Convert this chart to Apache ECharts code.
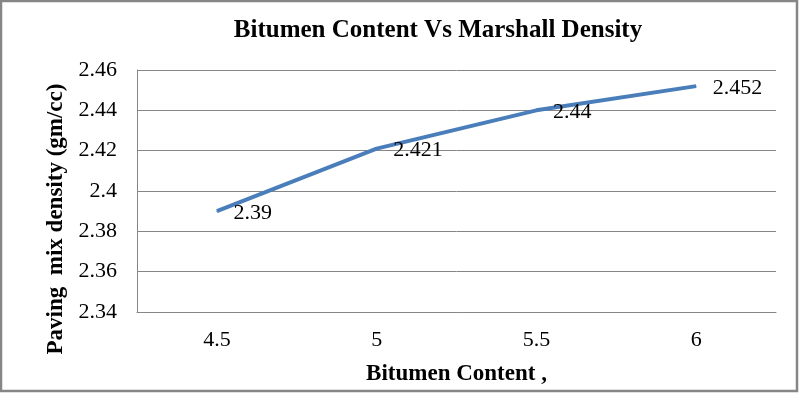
<!DOCTYPE html>
<html><head><meta charset="utf-8">
<script src="https://cdn.jsdelivr.net/npm/echarts@6/dist/echarts.min.js"></script>
<style>html,body{margin:0;padding:0;background:#fff}#c{width:799px;height:393px}</style>
</head><body><div id="c"></div>
<script>
const categories = ['4.5', '5', '5.5', '6'];
const density = [2.39, 2.421, 2.44, 2.452];
const yTicks = [2.34, 2.36, 2.38, 2.4, 2.42, 2.44, 2.46];
const font = '"Liberation Serif", "Times New Roman", serif';
const chart = echarts.init(document.getElementById('c'), null, {renderer: 'canvas'});
chart.setOption({
  animation: false,
  backgroundColor: '#fff',
  title: {
    text: 'Bitumen Content Vs Marshall Density',
    left: 433, top: 13, textAlign: 'center',
    textStyle: {fontFamily: font, fontWeight: 'bold', fontSize: 25, color: '#000'}
  },
  graphic: [{
    type: 'rect', shape: {x: 1, y: 1, width: 796, height: 390},
    style: {fill: 'none', stroke: '#868686', lineWidth: 2.5}, silent: true
  }],
  grid: {left: 137, right: 23, top: 70, bottom: 81},
  xAxis: {
    type: 'category', data: categories, boundaryGap: true,
    axisLine: {show: true, lineStyle: {color: '#868686', width: 1}},
    axisTick: {show: false},
    axisLabel: {fontFamily: font, fontSize: 22, color: '#000', margin: 17},
    name: 'Bitumen Content ,', nameLocation: 'middle', nameGap: 51,
    nameTextStyle: {fontFamily: font, fontWeight: 'bold', fontSize: 23, color: '#000'}
  },
  yAxis: {
    type: 'value', min: yTicks[0], max: yTicks[yTicks.length - 1], interval: 0.02,
    axisLine: {show: true, lineStyle: {color: '#868686', width: 1}},
    axisTick: {show: false},
    splitLine: {lineStyle: {color: '#868686', width: 1}},
    axisLabel: {fontFamily: font, fontSize: 22, color: '#000', margin: 20,
      formatter: v => String(parseFloat(v.toFixed(2)))},
    name: 'Paving  mix density (gm/cc)', nameLocation: 'middle', nameGap: 67, nameRotate: 90,
    nameTextStyle: {fontFamily: font, fontWeight: 'bold', fontSize: 23, color: '#000', padding: [0, 56, 0, 0]}
  },
  series: [{
    type: 'line', data: density, symbol: 'circle', symbolSize: 1, showSymbol: true,
    itemStyle: {color: '#4a7ebb'},
    lineStyle: {color: '#4a7ebb', width: 4},
    label: {show: true, position: 'right', distance: 16, offset: [0, 2],
      fontFamily: font, fontSize: 22, color: '#000',
      formatter: p => String(p.value)}
  }]
});
</script></body></html>
